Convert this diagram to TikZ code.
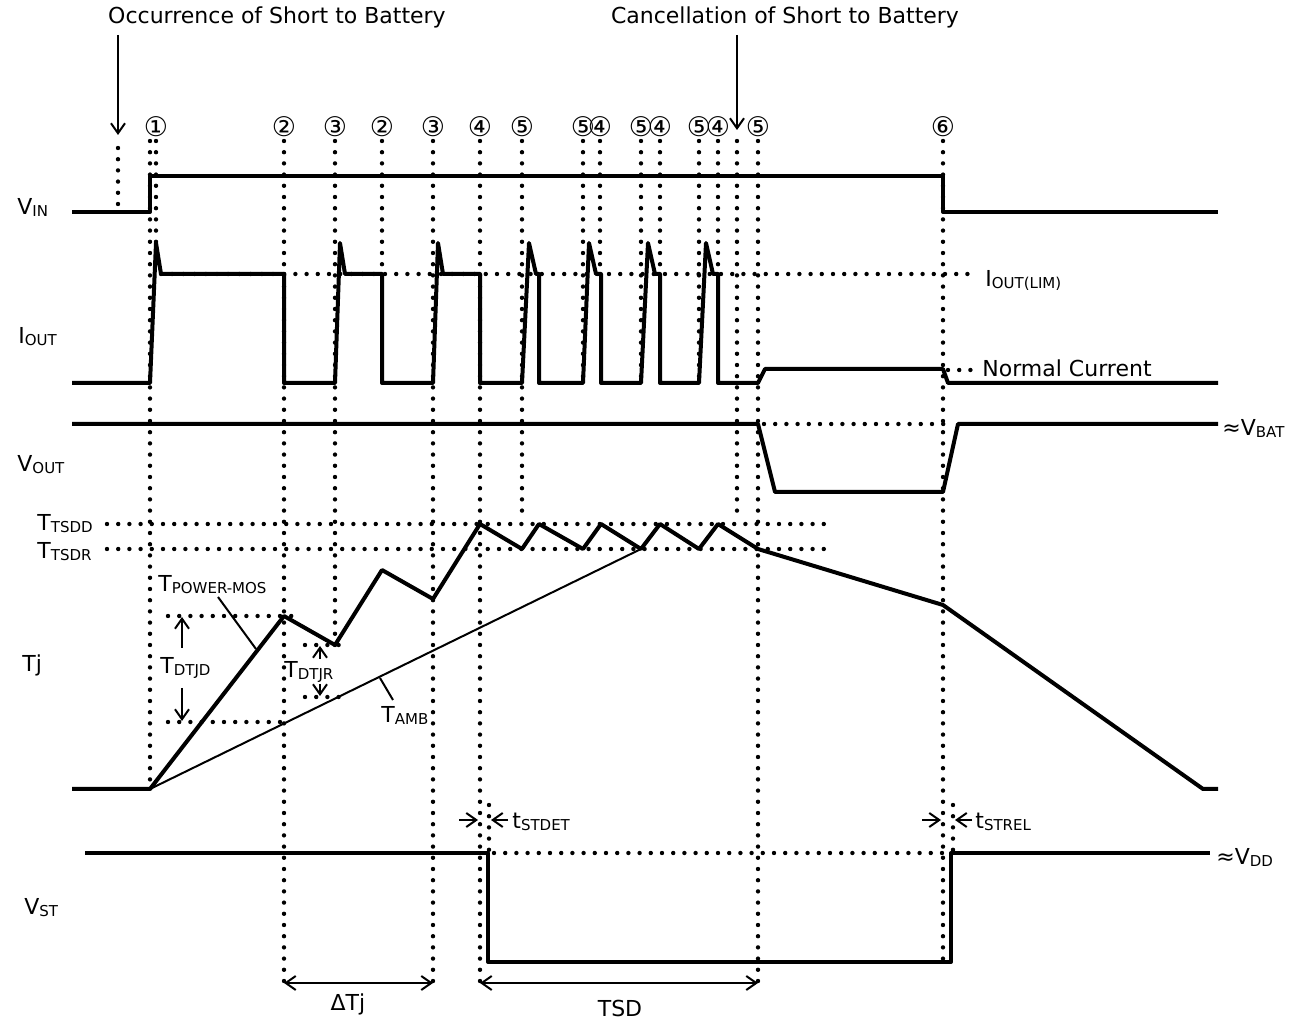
\documentclass[tikz,border=0pt]{standalone}
\usepackage{fontspec}
\setmainfont{DejaVu Sans}
\usetikzlibrary{arrows.meta}
\newcommand{\sbs}[1]{\raisebox{-1pt}{\fontsize{7.5pt}{8pt}\selectfont #1}}

\begin{document}
\begin{tikzpicture}[x=0.5pt, y=-0.5pt,
  every node/.style={font=\fontsize{11pt}{13pt}\selectfont, inner sep=0pt},
  wave/.style={line width=2pt, line join=round},
  guide/.style={line width=2.2pt, line cap=round, dash pattern=on 0pt off 5.6pt},
  lead/.style={line width=1pt},
  ptr/.style={line width=1pt, -{Straight Barb[length=5pt,width=7pt]}},
  dimarrow/.style={line width=1pt, {Straight Barb[length=5pt,width=7pt]}-{Straight Barb[length=5pt,width=7pt]}},
  lbl/.style={anchor=west},
  num/.style={font=\fontsize{13.5pt}{14pt}\selectfont}]
  \useasboundingbox (0,0) rectangle (1298,1021);

  % event labels
  \node (occ) at (277,17) {Occurrence of Short to Battery};
  \node (can) at (785,17) {Cancellation of Short to Battery};
  \draw[ptr] (118,35) -- (118,135);
  \draw[ptr] (737,35) -- (737,130);
  \draw[guide] (118,148) -- (118,212);

  % numbered instants
  \foreach \x/\n in {156/①, 284/②, 335/③, 382/②, 433/③, 480/④, 522/⑤, 583/⑤,
                     600/④, 641/⑤, 660/④, 699/⑤, 718/④, 758/⑤, 943/⑥}
    \node[num] (n\x) at (\x,127) {\n};
  \foreach \x/\yb in {150/789, 156/243, 284/985, 335/645, 382/274, 433/985, 480/985,
                      522/512, 583/383, 600/274, 641/383, 660/274, 699/383, 718/274,
                      737/512, 758/985, 943/962}
    \draw[guide] (\x,141) -- (\x,\yb);

  % signal names
  \node[lbl] (vin) at (17,207) {V\sbs{IN}};
  \node[lbl] (iout) at (18,337) {I\sbs{OUT}};
  \node[lbl] (vout) at (17,465) {V\sbs{OUT}};
  \node[lbl] (tsdd) at (37,524) {T\sbs{TSDD}};
  \node[lbl] (tsdr) at (37,552) {T\sbs{TSDR}};
  \node[lbl] (tj) at (22,665) {Tj};
  \node[lbl] (vst) at (24,908) {V\sbs{ST}};

  % V_IN
  \draw[wave] (72,212) -- (150,212) -- (150,176) -- (943,176) -- (943,212) -- (1218,212);

  % I_OUT
  \draw[guide] (161,274) -- (978,274);
  \node[lbl] (ilim) at (985,280) {I\sbs{OUT(LIM)}};
  \draw[wave] (72,383) -- (150,383) -- (156,243) -- (161,274) -- (284,274) -- (284,383)
    -- (335,383) -- (340,243) -- (345,274) -- (382,274) -- (382,383)
    -- (433,383) -- (438,243) -- (443,274) -- (480,274) -- (480,383)
    -- (522,383) -- (529,243) -- (536,274) -- (539,274) -- (539,383)
    -- (583,383) -- (589,243) -- (596,274) -- (601,274) -- (601,383)
    -- (641,383) -- (648,243) -- (655,274) -- (660,274) -- (660,383)
    -- (699,383) -- (706,243) -- (713,274) -- (718,274) -- (718,383)
    -- (758,383) -- (765,369) -- (943,369) -- (948,383) -- (1218,383);
  \draw[guide] (948,370) -- (975,370);
  \node[lbl] (norm) at (982,368) {Normal Current};

  % V_OUT
  \draw[wave] (72,424) -- (758,424) -- (775,492) -- (943,492) -- (958,424) -- (1218,424);
  \draw[guide] (764,424) -- (952,424);
  \node[lbl] (vbat) at (1222,428) {≈V\sbs{BAT}};

  % Tj
  \draw[guide] (107,524) -- (827,524);
  \draw[guide] (107,549) -- (827,549);
  \draw[lead] (150,789) -- (641,549);
  \draw[wave] (72,789) -- (150,789) -- (284,616) -- (335,645) -- (382,570) -- (433,599)
    -- (480,524) -- (522,549) -- (539,524) -- (583,549) -- (601,524) -- (641,549)
    -- (660,524) -- (699,549) -- (718,524) -- (758,549) -- (943,605) -- (1203,789) -- (1218,789);
  \node[lbl] (pmos) at (158,585) {T\sbs{POWER-MOS}};
  \draw[lead] (218,597) -- (256,649);
  \draw[guide] (168,616) -- (298,616);
  \draw[guide] (168,722) -- (284,722);
  \draw[ptr] (182,648) -- (182,617);
  \draw[ptr] (182,688) -- (182,721);
  \node[lbl] (dtjd) at (160,668) {T\sbs{DTJD}};
  \draw[guide] (305,645) -- (345,645);
  \draw[guide] (305,697) -- (345,697);
  \draw[ptr] (320,659) -- (320,646);
  \draw[ptr] (320,684) -- (320,696);
  \node[lbl] (dtjr) at (284,672) {T\sbs{DTJR}};
  \node[lbl] (amb) at (381,715) {T\sbs{AMB}};
  \draw[lead] (380,678) -- (393,700);

  % V_ST
  \draw[guide] (489,805) -- (489,853);
  \draw[guide] (953,805) -- (953,853);
  \draw[guide] (494,853) -- (946,853);
  \draw[wave] (85,853) -- (488,853) -- (488,962) -- (951,962) -- (951,853) -- (1210,853);
  \node[lbl] (vdd) at (1216,857) {≈V\sbs{DD}};
  \draw[ptr] (459,820) -- (478,820);
  \draw[ptr] (508,820) -- (491,820);
  \node[lbl] (det) at (512,822) {t\sbs{STDET}};
  \draw[ptr] (922,820) -- (941,820);
  \draw[ptr] (972,820) -- (955,820);
  \node[lbl] (rel) at (975,822) {t\sbs{STREL}};

  % intervals
  \draw[dimarrow] (284,983) -- (433,983);
  \node (dtj) at (348,1004) {ΔTj};
  \draw[dimarrow] (480,983) -- (758,983);
  \node (tsd) at (620,1008) {TSD};
\end{tikzpicture}
\end{document}
